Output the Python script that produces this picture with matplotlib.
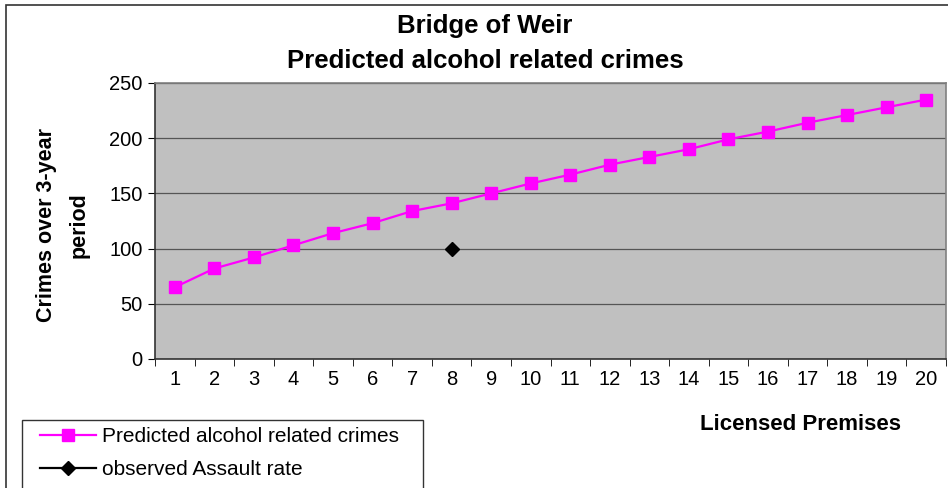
import matplotlib
matplotlib.use("Agg")
import matplotlib.pyplot as plt
from matplotlib.patches import Rectangle

plt.rcParams["font.family"] = ["Liberation Sans", "DejaVu Sans"]

premises = list(range(1, 21))
predicted = [65, 82, 92, 103, 114, 123, 134, 141, 150, 159,
             167, 176, 183, 190, 199, 206, 214, 221, 228, 235]
obs_x = [8]
obs_y = [100]

fig = plt.figure(figsize=(9.48, 4.88), dpi=100)
ax = fig.add_axes([155/948, 1-359/488, 791/948, 276/488])
ax.set_facecolor("#C0C0C0")

ax.plot(premises, predicted, color="#FF00FF", lw=1.6, marker="s", ms=9,
        label="Predicted alcohol related crimes", zorder=3)
ax.plot(obs_x, obs_y, color="black", lw=1.6, marker="D", ms=7,
        label="observed Assault rate", zorder=3)

ax.set_xlim(0.5, 20.5)
ax.set_ylim(0, 250)
ax.set_yticks(range(0, 251, 50))
ax.set_xticks(premises)
ax.set_xticks([i + 0.5 for i in range(0, 21)], minor=True)
ax.tick_params(axis="x", which="major", length=0, labelsize=14.5, pad=8)
ax.tick_params(axis="x", which="minor", length=5, color="black", direction="out")
ax.tick_params(axis="y", length=5, color="black", labelsize=14.5, pad=4)
ax.grid(axis="y", color="#555555", lw=0.9)
ax.set_axisbelow(True)
for s in ["top", "right"]:
    ax.spines[s].set_color("#808080")
    ax.spines[s].set_linewidth(1.2)
for s in ["left", "bottom"]:
    ax.spines[s].set_color("#333333")
    ax.spines[s].set_linewidth(1.2)

fig.text(485/948, 1-26/488, "Bridge of Weir", ha="center", va="center",
         fontsize=18.5, fontweight="bold")
fig.text(485/948, 1-61/488, "Predicted alcohol related crimes", ha="center",
         va="center", fontsize=18.5, fontweight="bold")
fig.text(63/948, 1-225/488, "Crimes over 3-year\nperiod", rotation=90,
         ha="center", va="center", fontsize=15.5, fontweight="bold",
         linespacing=1.75)
fig.text(800/948, 1-425/488, "Licensed Premises", ha="center", va="center",
         fontsize=16, fontweight="bold")

# chart outer border + legend box (both run off the bottom edge)
fig.patches.append(Rectangle((6/948, -0.1), 1.1, 1-5/488 + 0.1,
                             transform=fig.transFigure, fill=False,
                             edgecolor="#333333", lw=1.2))
fig.patches.append(Rectangle((22/948, -0.1), 401/948, 1-420/488 + 0.1,
                             transform=fig.transFigure, fill=False,
                             edgecolor="#333333", lw=1.0))

leg = fig.legend(loc="upper left", bbox_to_anchor=(40/948, 1-427/488),
                 frameon=False, fontsize=15,
                 handlelength=2.7, handletextpad=0.3, borderpad=0,
                 labelspacing=0.68, borderaxespad=0)

fig.savefig("out.png", dpi=100, facecolor="white")
